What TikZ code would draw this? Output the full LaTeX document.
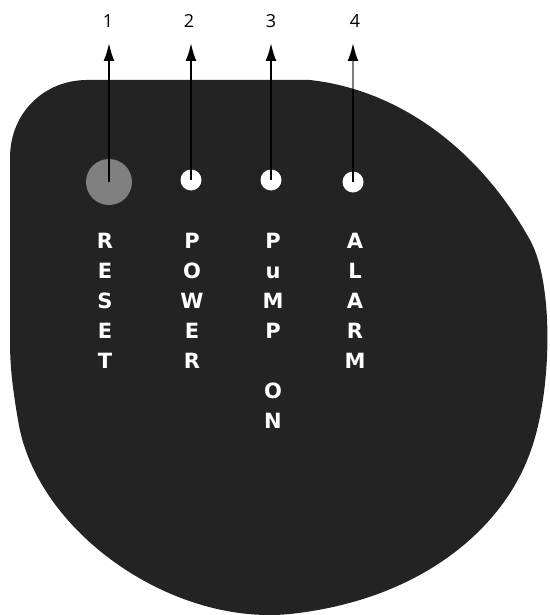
\documentclass[tikz,border=0pt]{standalone}
\usepackage{fontspec}
\setmainfont{Open Sans}
\newfontfamily\lblfont{DejaVu Sans}
\usetikzlibrary{arrows.meta}
\definecolor{panel}{HTML}{232323}
\definecolor{knob}{HTML}{808080}
\begin{document}
\begin{tikzpicture}[x=1pt,y=-1pt,
  lbl/.style={text=white,font=\lblfont\fontsize{21}{30}\selectfont\bfseries,align=center,anchor=north,inner sep=0pt},
  num/.style={font=\fontsize{18}{18}\selectfont,inner sep=0pt},
  led/.style={circle,fill=white,minimum size=21pt,inner sep=0pt},
  knobstyle/.style={circle,fill=knob,minimum size=46pt,inner sep=0pt},
  arr/.style={line width=2pt,-{Latex[length=18pt,width=11pt]},shorten >=22pt}]
\useasboundingbox (0,0) rectangle (549,615);
\def\panelpath{(87,80) -- (310,80) .. controls (400,90) and (480,150) .. (530,240)
  .. controls (555,285) and (552,400) .. (528,458)
  .. controls (500,530) and (420,600) .. (290,614)
  .. controls (170,626) and (35,530) .. (18,420)
  .. controls (12,385) and (10,365) .. (10,340)
  -- (10,158) .. controls (10,112) and (45,80) .. cycle}
\fill[panel] \panelpath;
% numbers
\node[num] (n1) at (108,21) {1};
\node[num] (n2) at (189,21) {2};
\node[num] (n3) at (271,21) {3};
\node[num] (n4) at (355,21) {4};
% knob and leds
\node[knobstyle] (d1) at (109,182) {};
\node[led] (d2) at (191,180) {};
\node[led] (d3) at (271,180) {};
\node[led] (d4) at (353,182) {};
% arrows
\draw[arr] (d1.center) -- (d1.center |- n1);
\draw[arr] (d2.center) -- (d2.center |- n2);
\draw[arr] (d3.center) -- (d3.center |- n3);
\draw[arr,draw=black!50,-{Latex[length=18pt,width=11pt,fill=black,color=black]}] (d4.center) -- (d4.center |- n4);
\begin{scope}
\clip \panelpath;
\draw[line width=2pt] (d4.center) -- ([yshift=-30pt]d4.center |- n4);
\end{scope}
% labels
\node[lbl] (reset) at (105,233) {R\\E\\S\\E\\T};
\node[lbl] (power) at (192,233) {P\\O\\W\\E\\R};
\node[lbl] (pump) at (273,233) {P\\u\\M\\P\\[30pt]O\\N};
\node[lbl] (alarm) at (355,233) {A\\L\\A\\R\\M};
\end{tikzpicture}
\end{document}
